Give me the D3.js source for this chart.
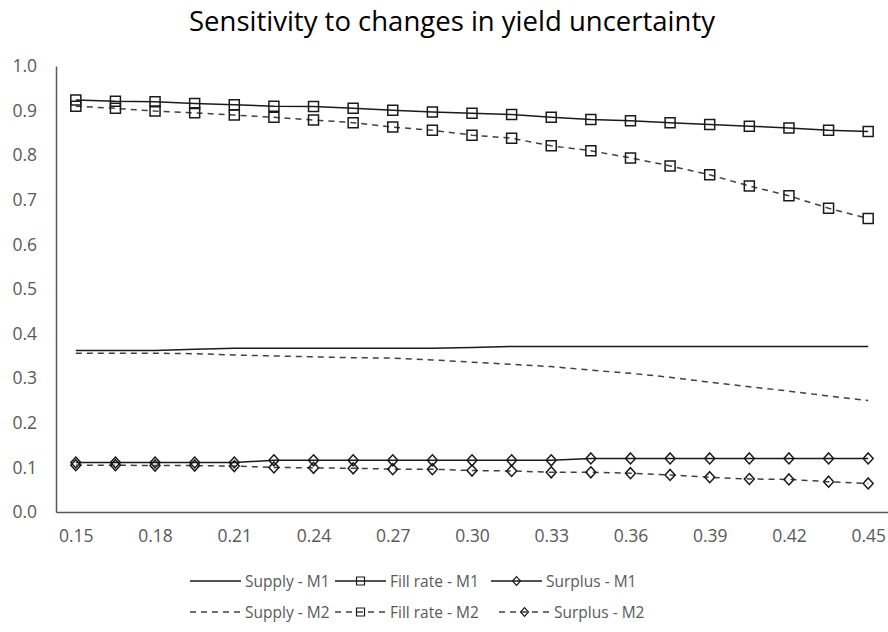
<!DOCTYPE html>
<html>
<head>
<meta charset="utf-8">
<script src="https://cdn.jsdelivr.net/npm/d3@7"></script>
<style>
  body { margin: 0; background: #fff; }
  text { font-family: "Open Sans", "Noto Sans", sans-serif; }
</style>
</head>
<body>
<div id="container"></div>
<script>
// chart data
const categories = ["0.15", "0.165", "0.18", "0.195", "0.21", "0.225", "0.24", "0.255", "0.27", "0.285",
    "0.30", "0.315", "0.33", "0.345", "0.36", "0.375", "0.39", "0.405", "0.42", "0.435", "0.45"];
const tickLabels = ["0.15", "0.18", "0.21", "0.24", "0.27", "0.30", "0.33", "0.36", "0.39", "0.42", "0.45"];
const yTicks = [0, 0.1, 0.2, 0.3, 0.4, 0.5, 0.6, 0.7, 0.8, 0.9, 1.0];

const supplyM1 = [0.362, 0.362, 0.362, 0.365, 0.367, 0.367, 0.367, 0.367, 0.367, 0.367, 0.369,
    0.371, 0.371, 0.371, 0.371, 0.371, 0.371, 0.371, 0.371, 0.371, 0.371];
const fillRateM1 = [0.924, 0.921, 0.920, 0.916, 0.913, 0.910, 0.909, 0.905, 0.901, 0.897, 0.894,
    0.891, 0.885, 0.880, 0.877, 0.873, 0.869, 0.865, 0.861, 0.856, 0.853];
const surplusM1 = [0.111, 0.111, 0.111, 0.111, 0.111, 0.116, 0.116, 0.116, 0.116, 0.116, 0.116,
    0.116, 0.116, 0.120, 0.120, 0.120, 0.120, 0.120, 0.120, 0.120, 0.120];
const supplyM2 = [0.356, 0.356, 0.356, 0.355, 0.352, 0.350, 0.348, 0.346, 0.345, 0.341, 0.336,
    0.331, 0.326, 0.318, 0.311, 0.302, 0.291, 0.281, 0.271, 0.260, 0.250];
const fillRateM2 = [0.910, 0.905, 0.899, 0.895, 0.890, 0.885, 0.879, 0.873, 0.863, 0.856, 0.845,
    0.838, 0.821, 0.810, 0.794, 0.776, 0.756, 0.731, 0.709, 0.681, 0.658];
const surplusM2 = [0.105, 0.105, 0.104, 0.104, 0.103, 0.100, 0.099, 0.098, 0.096, 0.096, 0.093,
    0.092, 0.089, 0.089, 0.087, 0.083, 0.078, 0.074, 0.073, 0.068, 0.064];

const seriesNames = ["Supply - M1", "Fill rate - M1", "Surplus - M1", "Supply - M2", "Fill rate - M2", "Surplus - M2"];
const seriesValues = [supplyM1, fillRateM1, surplusM1, supplyM2, fillRateM2, surplusM2];
const seriesMarkers = ["none", "square", "diamond", "none", "square", "diamond"];
const seriesDashed = [false, false, false, true, true, true];

// constants
const WIDTH = 888;
const HEIGHT = 632;
const AXIS_COLOR = "#595959";
const TEXT_COLOR = "#595959";
const TICK_FONT = "17.5px";

const canvas = d3.select("#container")
    .append("svg")
    .attr("width", WIDTH)
    .attr("height", HEIGHT);

const xScale = d3.scalePoint()
    .domain(categories)
    .range([56, 888])
    .padding(0.5);

const yScale = d3.scaleLinear()
    .domain([0, 1])
    .range([512, 66]);

// title
canvas.append("text")
    .attr("x", 452)
    .attr("y", 31)
    .attr("text-anchor", "middle")
    .style("font-size", "27.5px")
    .style("fill", "#000")
    .text("Sensitivity to changes in yield uncertainty");

// y axis
const leftAxis = d3.axisLeft(yScale)
    .tickValues(yTicks)
    .tickSize(0)
    .tickPadding(19)
    .tickFormat(d3.format(".1f"));

const gy = canvas.append("g")
    .attr("transform", "translate(56,0)")
    .call(leftAxis);
gy.select(".domain").attr("stroke", AXIS_COLOR).attr("stroke-width", 1.5);
gy.selectAll("text").style("font-size", TICK_FONT).style("fill", TEXT_COLOR).style("font-family", "Open Sans");

// x axis
const bottomAxis = d3.axisBottom(xScale)
    .tickValues(categories.filter((c, i) => i % 2 === 0))
    .tickSize(0)
    .tickPadding(18)
    .tickFormat((d, i) => tickLabels[i]);

const gx = canvas.append("g")
    .attr("transform", "translate(0,512)")
    .call(bottomAxis);
gx.select(".domain").attr("stroke", AXIS_COLOR).attr("stroke-width", 1.5);
gx.selectAll("text").style("font-size", TICK_FONT).style("fill", TEXT_COLOR).style("font-family", "Open Sans");

// markers
const squarePath = "M-5,-5L5,-5L5,5L-5,5Z";
const diamondPath = "M0,-5.5L5,0L0,5.5L-5,0Z";

const drawMarker = (g, type) => {
    if (type === "square") {
        g.append("path").attr("d", squarePath);
    } else if (type === "diamond") {
        g.append("path").attr("d", diamondPath);
    }
};

const line = d3.line()
    .x((d, i) => xScale(categories[i]))
    .y((d) => yScale(d));

seriesValues.forEach((vals, s) => {
    const color = seriesDashed[s] ? "#404040" : "#1a1a1a";

    canvas.append("path")
        .datum(vals)
        .attr("d", line)
        .attr("fill", "none")
        .attr("stroke", color)
        .attr("stroke-width", 1.5)
        .attr("stroke-dasharray", seriesDashed[s] ? "6,5" : null);

    if (seriesMarkers[s] !== "none") {
        canvas.append("g")
            .selectAll("g")
            .data(vals)
            .enter()
            .append("g")
            .attr("transform", (d, i) => "translate(" + xScale(categories[i]) + "," + yScale(d) + ")")
            .each(function () { drawMarker(d3.select(this), seriesMarkers[s]); })
            .selectAll("path")
            .attr("fill", "none")
            .attr("stroke", "#1a1a1a")
            .attr("stroke-width", 1.5);
    }
});

// legend
const legendX = [190, 335, 491, 190, 335, 499];
const legendRowY = [581, 612];
const LEGEND_LINE = 51;

seriesNames.forEach((name, s) => {
    const row = Math.floor(s / 3);
    const g = canvas.append("g")
        .attr("transform", "translate(" + legendX[s] + "," + legendRowY[row] + ")");

    g.append("line")
        .attr("x1", 0)
        .attr("x2", LEGEND_LINE)
        .attr("y1", 0)
        .attr("y2", 0)
        .attr("stroke", seriesDashed[s] ? "#404040" : "#1a1a1a")
        .attr("stroke-width", 1.5)
        .attr("stroke-dasharray", seriesDashed[s] ? "6,5" : null);

    if (seriesMarkers[s] !== "none") {
        const m = g.append("g").attr("transform", "translate(" + (LEGEND_LINE / 2) + ",0) scale(0.8)");
        drawMarker(m, seriesMarkers[s]);
        m.selectAll("path")
            .attr("fill", "none")
            .attr("stroke", "#1a1a1a")
            .attr("stroke-width", 1.5);
    }

    g.append("text")
        .attr("x", LEGEND_LINE + 4)
        .attr("y", 6)
        .style("font-size", "15.5px")
        .style("fill", TEXT_COLOR)
        .text(name);
});
</script>
</body>
</html>
